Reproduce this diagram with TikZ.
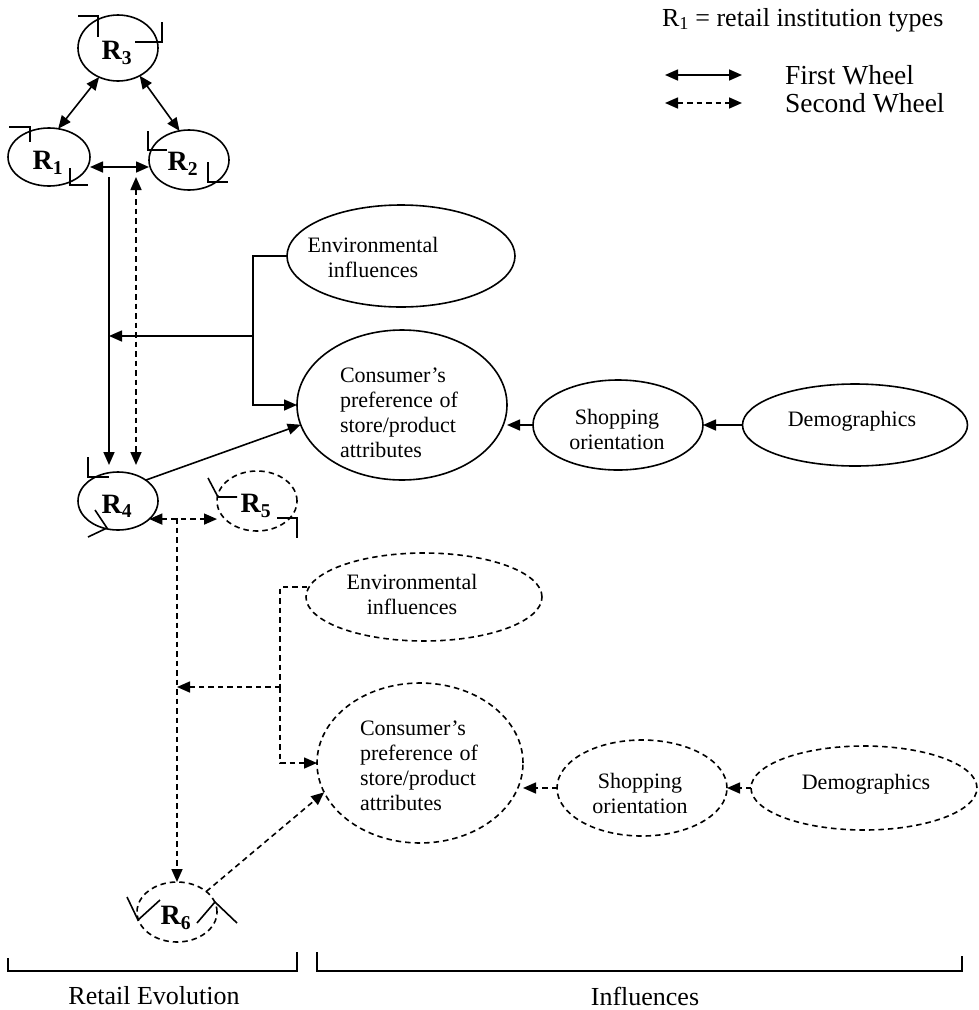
\documentclass[tikz,border=0pt]{standalone}
\usepackage{fontspec}
\setmainfont{Liberation Serif}
\usetikzlibrary{arrows.meta,shapes.geometric,calc}
\begin{document}
\begin{tikzpicture}[x=1pt,y=-1pt,
  line width=1.6pt,
  every node/.style={inner sep=0pt,outer sep=0pt},
  ell/.style={draw,ellipse,line width=1.6pt},
  dsh/.style={dash pattern=on 5.5pt off 4pt},
  tip/.style={-{Triangle[length=13pt,width=11pt]}},
  both/.style={{Triangle[length=13pt,width=11pt]}-{Triangle[length=13pt,width=11pt]}},
  rlab/.style={font=\fontsize{28}{30}\selectfont\bfseries},
  etxt/.style={font=\fontsize{22}{25}\selectfont,align=center},
  big/.style={font=\fontsize{26}{28}\selectfont},
  leg/.style={font=\fontsize{27.5}{29}\selectfont}
]
\useasboundingbox (0,0) rectangle (978,1010);

% ---- retail institution ellipses
\node[ell,minimum width=80pt,minimum height=66pt] (R3) at (118,48) {};
\node[ell,minimum width=82pt,minimum height=58pt] (R1) at (49,157) {};
\node[ell,minimum width=80pt,minimum height=60pt] (R2) at (189,160) {};
\node[ell,minimum width=80pt,minimum height=58pt] (R4) at (118,501) {};
\node[ell,dsh,minimum width=80pt,minimum height=60pt] (R5) at (257,501) {};
\node[ell,dsh,minimum width=80pt,minimum height=60pt] (R6) at (177,912) {};
\node[rlab] (R3t) at (117,53) {R\textsubscript{3}};
\node[rlab] (R1t) at (48,163) {R\textsubscript{1}};
\node[rlab] (R2t) at (183,164) {R\textsubscript{2}};
\node[rlab] (R4t) at (117,506) {R\textsubscript{4}};
\node[rlab] (R5t) at (256,506) {R\textsubscript{5}};
\node[rlab] (R6t) at (176,918) {R\textsubscript{6}};

% ---- corner marks
\draw (78,16) -- (98,16) -- (98,37);
\draw (162,22) -- (162,42) -- (135,42);
\draw (9,127) -- (30,127) -- (30,142);
\draw (70,168) -- (70,185) -- (88,185);
\draw (148,131) -- (148,150) -- (167,150);
\draw (208,162) -- (208,182) -- (228,182);
\draw (88,457) -- (88,477) -- (109,477);
\draw (95,510) -- (107,528) -- (88,537);
\draw (208,478) -- (218,497) -- (237,497);
\draw (277,518) -- (297,518) -- (297,538);
\draw (127,897) -- (138,920) -- (160,900);
\draw (197,923) -- (215,902) -- (237,923);

% ---- influence ellipses (first wheel)
\node[ell,minimum width=228pt,minimum height=102pt] (envA) at (401,256) {};
\node[etxt] (envAt) at (373,257) {Environmental\\influences};
\node[ell,minimum width=210pt,minimum height=150pt] (consA) at (402,405) {};
\node[etxt] (consAt) at (399,413) {\parbox{118pt}{Consumer’s\\preference\hfill of\\store/product\\attributes}};
\node[ell,minimum width=170pt,minimum height=90pt] (shopA) at (618,425) {};
\node[etxt] (shopAt) at (617,429) {Shopping\\orientation};
\node[ell,minimum width=225pt,minimum height=82pt] (demA) at (855,425) {};
\node[etxt] (demAt) at (852,421) {Demographics};

% ---- influence ellipses (second wheel)
\node[ell,dsh,minimum width=236pt,minimum height=88pt] (envB) at (424,597) {};
\node[etxt] (envBt) at (412,594) {Environmental\\influences};
\node[ell,dsh,minimum width=206pt,minimum height=160pt] (consB) at (420,763) {};
\node[etxt] (consBt) at (419,766) {\parbox{118pt}{Consumer’s\\preference\hfill of\\store/product\\attributes}};
\node[ell,dsh,minimum width=170pt,minimum height=96pt] (shopB) at (642,788) {};
\node[etxt] (shopBt) at (640,793) {Shopping\\orientation};
\node[ell,dsh,minimum width=226pt,minimum height=84pt] (demB) at (864,788) {};
\node[etxt] (demBt) at (866,784) {Demographics};

% ---- first wheel connectors
\draw[both] (R3.237) -- (R1.72);
\draw[both] (R3.-52) -- (R2.108);
\draw[both] ($(R1.east)+(0,10)$) -- ($(R2.west)+(0,7)$);
\coordinate (s1) at (109,177);
\coordinate (s2) at (109,465);
\draw[tip] (s1) -- (s2);
\coordinate (d1) at (136,177);
\coordinate (d2) at (136,465);
\draw[both,dsh] (d1) -- (d2);
\coordinate (jA) at (253,336);
\draw (envA.west) -| (jA);
\draw[tip] (jA) -- (jA -| s1);
\draw[tip] (jA) |- (consA.west);
\draw[tip] (R4.37) -- (consA.191);
\draw[tip] (shopA.west) -- (consA.east |- shopA.west);
\draw[tip] (demA.west) -- (shopA.east);

% ---- second wheel connectors
\draw[both,dsh] (R4.-30) -- (R4.-30 -| R5.west);
\coordinate (jB) at (177,518);
\draw[tip,dsh] (jB) -- (R6.north);
\coordinate (kB) at (280,687);
\draw[dsh] ($(envB.west)+(1,-10)$) -| (kB);
\draw[tip,dsh] (kB) -- (kB -| jB);
\draw[tip,dsh] (kB) |- (consB.west);
\draw[tip,dsh] (R6.35) -- (consB.197);
\draw[tip,dsh] (shopB.west) -- (consB.east |- shopB.west);
\draw[tip,dsh] (demB.west) -- (shopB.east);

% ---- legend
\node[big,anchor=west] (leg0) at (662,20) {R\textsubscript{1} = retail institution types};
\coordinate (la1) at (665,75);
\coordinate (la2) at (742,75);
\draw[both] (la1) -- (la2);
\node[leg,anchor=west] (leg1) at (785,75) {First Wheel};
\coordinate (lb1) at (665,103);
\coordinate (lb2) at (742,103);
\draw[both,dsh] (lb1) -- (lb2);
\node[leg,anchor=west] (leg2) at (785,103) {Second Wheel};

% ---- bottom brackets
\draw (8,958) -- (8,971) -- (297,971) -- (297,952);
\draw (317,952) -- (317,971) -- (962,971) -- (962,956);
\node[big] (lbl1) at (154,996) {Retail Evolution};
\node[big] (lbl2) at (645,996) {Influences};
\end{tikzpicture}
\end{document}
